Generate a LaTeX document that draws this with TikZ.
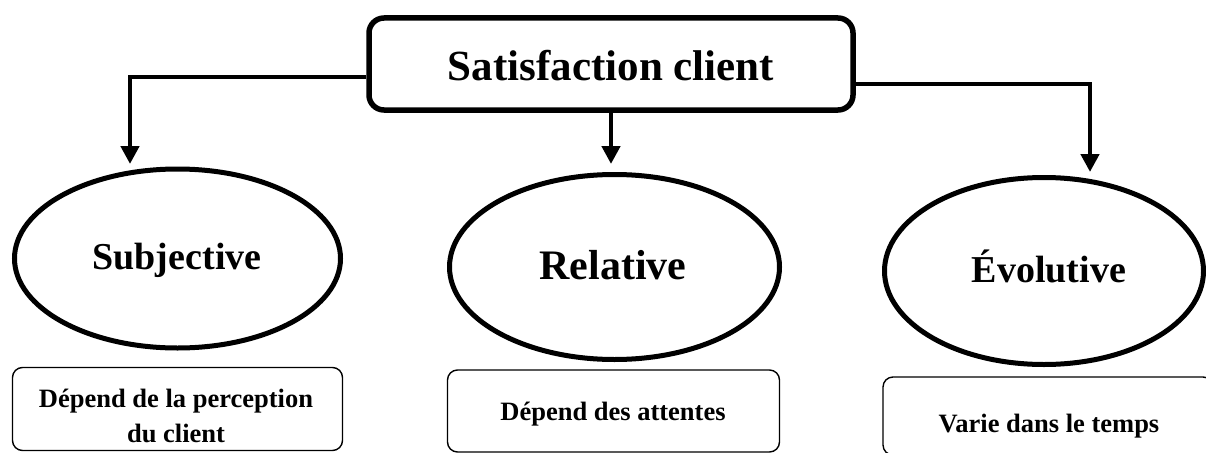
\documentclass[tikz,border=0pt]{standalone}
\usepackage{fontspec}
\setmainfont{Liberation Serif}
\usetikzlibrary{shapes.geometric,arrows.meta}

\tikzset{
  mainbox/.style={draw, line width=5.5pt, rounded corners=15pt, inner sep=0pt,
    minimum width=484pt, minimum height=92pt},
  oval/.style={draw, ellipse, line width=5pt, inner sep=0pt},
  notebox/.style={draw, line width=1.4pt, rounded corners=10pt, inner sep=0pt},
  link/.style={line width=4.5pt, -{Triangle[width=18pt,length=18pt]}},
  lbl/.style={font=\bfseries, align=center, inner sep=0pt}
}

\begin{document}
\begin{tikzpicture}[x=1pt,y=-1pt]
\useasboundingbox (0,0) rectangle (1206,452);
\clip (0,0) rectangle (1206,452);

% central concept
\node[mainbox] (top) at (611,64) {};
\node[lbl, font=\fontsize{43}{48}\selectfont\bfseries] (toptxt) at (611,66) {Satisfaction client};

% the three characteristics
\node[oval, minimum width=326pt, minimum height=179pt] (subj) at (177.5,258.5) {};
\node[lbl, font=\fontsize{38}{44}\selectfont\bfseries] (subjtxt) at (177,260) {Subjective};

\node[oval, minimum width=330pt, minimum height=185pt] (rel) at (614.5,267) {};
\node[lbl, font=\fontsize{42}{48}\selectfont\bfseries] (reltxt) at (613,265) {Relative};

\node[oval, minimum width=319pt, minimum height=187pt] (evo) at (1044,271) {};
\node[lbl, font=\fontsize{38}{44}\selectfont\bfseries] (evotxt) at (1049,266) {Évolutive};

% explanatory boxes
\node[notebox, minimum width=330pt, minimum height=83pt] (subjbox) at (177.5,409) {};
\node[lbl, font=\fontsize{26.5}{35}\selectfont\bfseries] (subjnote) at (176,416) {Dépend de la perception\\du client};

\node[notebox, minimum width=332pt, minimum height=82pt] (relbox) at (613.5,411) {};
\node[lbl, font=\fontsize{26.5}{35}\selectfont\bfseries] (relnote) at (613,414) {Dépend des attentes};

\node[notebox, minimum width=330pt, minimum height=78pt] (evobox) at (1048,416) {};
\node[lbl, font=\fontsize{26.5}{35}\selectfont\bfseries] (evonote) at (1049,426) {Varie dans le temps};

% arrow end points above the ovals
\coordinate (subjin) at (130,164);
\coordinate (relin) at (611,164);
\coordinate (evoin) at (1090,172);

\draw[link] ([yshift=-13pt]top.west) -| (subjin);
\draw[link] (top.south) -- (relin);
\draw[link] ([yshift=-20pt]top.east) -| (evoin);
\end{tikzpicture}
\end{document}
